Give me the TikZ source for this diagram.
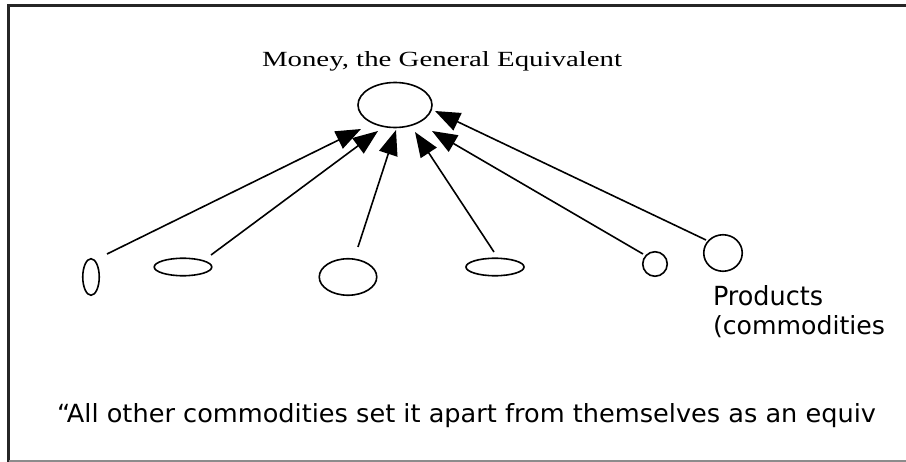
\documentclass[tikz,border=0pt]{standalone}
\usepackage{graphicx}
\usepackage{fontspec}
\setmainfont{Liberation Serif}
\newfontfamily\genevafont{DejaVu Sans}
\usetikzlibrary{shapes.geometric,arrows.meta}
\tikzset{
  shp/.style={ellipse, draw, line width=1.6pt, inner sep=0pt},
  conn/.style={line width=1.6pt, -{Triangle[length=25pt,width=19pt]}},
  txt/.style={anchor=base west, inner sep=0pt, outer sep=0pt},
}
\begin{document}
\begin{tikzpicture}[x=1pt,y=-1pt]
\useasboundingbox (0,0) rectangle (906,462);
% frame
\draw[line width=2.5pt, black!85] (8.5,462) -- (8.5,5.5) -- (906,5.5);
\draw[line width=1.2pt, black!45] (8.5,461) -- (906,461);
% title
\node[txt] (title) at (262,66.7) {\resizebox{360pt}{15pt}{Money, the General Equivalent}};
% money
\node[shp, minimum width=74pt, minimum height=45pt] (money) at (395,105) {};
% commodities
\node[shp, minimum width=16.5pt, minimum height=36.5pt] (c1) at (91,277) {};
\node[shp, minimum width=57.5pt, minimum height=17.5pt] (c2) at (183,267) {};
\node[shp, minimum width=57.5pt, minimum height=36.5pt] (c3) at (348,277) {};
\node[shp, minimum width=58pt, minimum height=17.5pt] (c4) at (495,267) {};
\node[shp, minimum width=24.5pt, minimum height=24.5pt] (c5) at (655,264) {};
\node[shp, minimum width=38.5pt, minimum height=36.5pt] (c6) at (723,253) {};
% connector ends
\coordinate (s1) at (107,254);
\coordinate (s2) at (211,255);
\coordinate (s3) at (358,247);
\coordinate (s4) at (494,252);
\coordinate (s5) at (643,254);
\coordinate (s6) at (706,240);
\coordinate (t1) at (361,129);
\coordinate (t2) at (378,131);
\coordinate (t3) at (396,130);
\coordinate (t4) at (415,132);
\coordinate (t5) at (432,131);
\coordinate (t6) at (435,111);
\draw[conn] (s1) -- (t1);
\draw[conn] (s2) -- (t2);
\draw[conn] (s3) -- (t3);
\draw[conn] (s4) -- (t4);
\draw[conn] (s5) -- (t5);
\draw[conn] (s6) -- (t6);
% labels
\node[txt] (prod1) at (713,306) {\genevafont\resizebox{110pt}{20pt}{Products}};
\node[txt] (prod2) at (713,335) {\genevafont\resizebox{172pt}{19pt}{(commodities}};
\node[txt] (quote) at (57,423) {\genevafont\resizebox{819pt}{19pt}{“All other commodities set it apart from themselves as an equiv}};
\end{tikzpicture}
\end{document}
